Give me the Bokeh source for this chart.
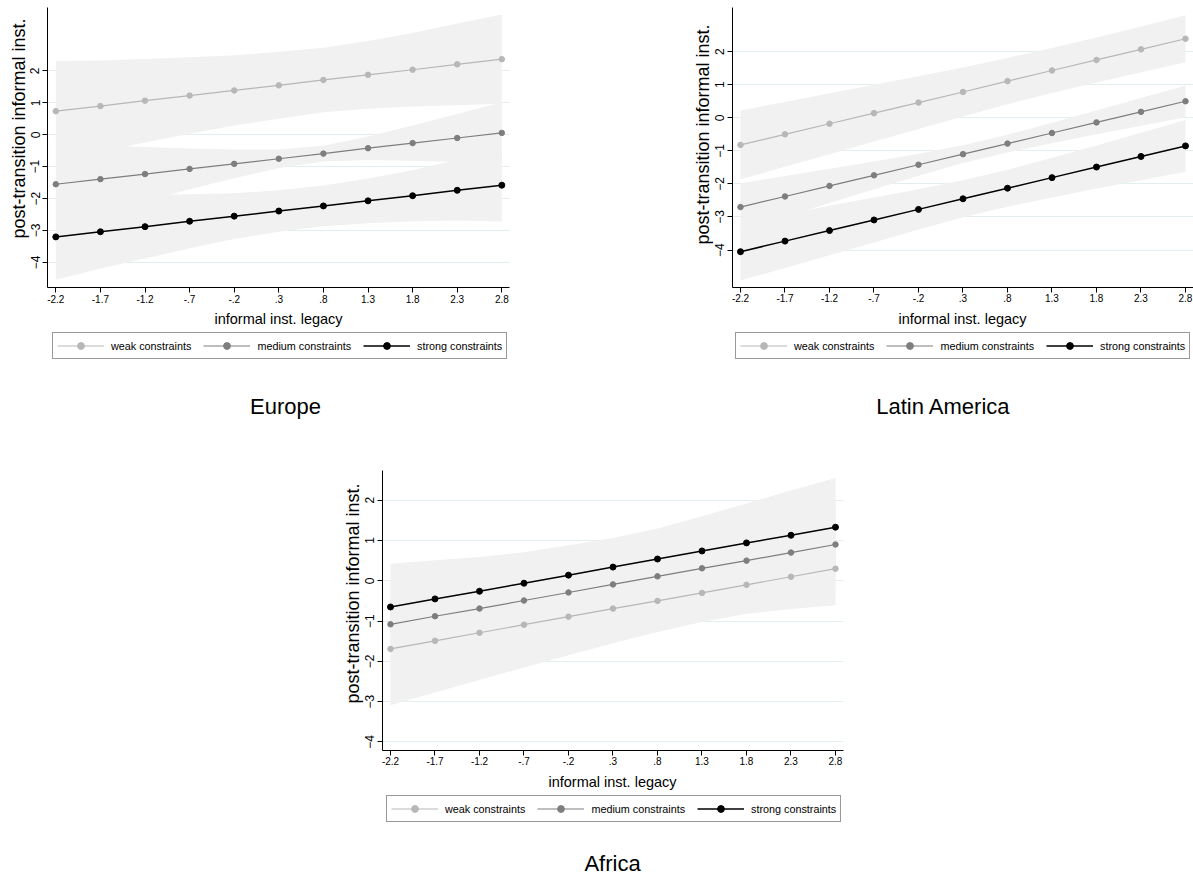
import math
from bokeh.plotting import figure
from bokeh.models import FixedTicker, Legend, LegendItem, Label, Range1d, Grid
from bokeh.layouts import row, column
from bokeh.embed import file_html
from bokeh.resources import INLINE

# ---------------- data ----------------
x_vals = [-2.2, -1.7, -1.2, -0.7, -0.2, 0.3, 0.8, 1.3, 1.8, 2.3, 2.8]
x_tick_labels = ["-2.2", "-1.7", "-1.2", "-.7", "-.2", ".3", ".8", "1.3", "1.8", "2.3", "2.8"]
y_ticks = [-4, -3, -2, -1, 0, 1, 2]
series_labels = ["weak constraints", "medium constraints", "strong constraints"]
panel_titles = ["Europe", "Latin America", "Africa"]
x_title = "informal inst. legacy"
y_title = "post-transition informal inst."

# Europe
eu_weak = [0.74, 0.90, 1.07, 1.23, 1.39, 1.55, 1.72, 1.88, 2.04, 2.21, 2.37]
eu_weak_lo = [-0.83, -0.53, -0.24, 0.03, 0.29, 0.50, 0.71, 0.82, 0.89, 0.93, 0.97]
eu_weak_hi = [2.31, 2.33, 2.38, 2.43, 2.49, 2.60, 2.73, 2.94, 3.19, 3.49, 3.77]
eu_med = [-1.55, -1.39, -1.23, -1.07, -0.91, -0.75, -0.59, -0.42, -0.26, -0.10, 0.06]
eu_med_lo = [-2.82, -2.45, -2.08, -1.71, -1.36, -1.04, -0.84, -0.79, -0.81, -0.85, -0.90]
eu_med_hi = [-0.28, -0.33, -0.38, -0.43, -0.46, -0.46, -0.34, -0.05, 0.29, 0.65, 1.02]
eu_str = [-3.20, -3.04, -2.88, -2.71, -2.55, -2.39, -2.23, -2.07, -1.91, -1.74, -1.58]
eu_str_lo = [-4.54, -4.19, -3.88, -3.56, -3.27, -3.04, -2.87, -2.77, -2.71, -2.69, -2.72]
eu_str_hi = [-1.86, -1.89, -1.88, -1.86, -1.83, -1.74, -1.59, -1.37, -1.11, -0.79, -0.44]

# Latin America
la_weak = [-0.82, -0.50, -0.18, 0.14, 0.46, 0.78, 1.11, 1.43, 1.75, 2.07, 2.39]
la_weak_lo = [-1.86, -1.48, -1.10, -0.72, -0.34, 0.04, 0.41, 0.75, 1.07, 1.38, 1.68]
la_weak_hi = [0.22, 0.48, 0.74, 1.00, 1.26, 1.52, 1.81, 2.11, 2.43, 2.76, 3.10]
la_med = [-2.70, -2.38, -2.06, -1.74, -1.42, -1.10, -0.78, -0.46, -0.14, 0.18, 0.50]
la_med_lo = [-3.42, -3.00, -2.58, -2.16, -1.75, -1.37, -1.05, -0.77, -0.50, -0.24, 0.02]
la_med_hi = [-1.98, -1.76, -1.54, -1.32, -1.09, -0.83, -0.51, -0.15, 0.22, 0.60, 0.98]
la_str = [-4.05, -3.73, -3.41, -3.09, -2.77, -2.45, -2.13, -1.81, -1.49, -1.17, -0.85]
la_str_lo = [-4.92, -4.54, -4.16, -3.77, -3.38, -3.01, -2.69, -2.41, -2.14, -1.89, -1.63]
la_str_hi = [-3.18, -2.92, -2.66, -2.41, -2.16, -1.89, -1.57, -1.21, -0.84, -0.45, -0.07]

# Africa
af_weak = [-1.69, -1.49, -1.29, -1.09, -0.89, -0.69, -0.50, -0.30, -0.10, 0.10, 0.30]
af_weak_lo = [-3.09, -2.77, -2.46, -2.15, -1.85, -1.55, -1.27, -1.02, -0.82, -0.70, -0.61]
af_weak_hi = [-0.29, -0.21, -0.12, -0.03, 0.07, 0.17, 0.27, 0.42, 0.62, 0.90, 1.21]
af_med = [-1.08, -0.88, -0.69, -0.49, -0.29, -0.09, 0.11, 0.31, 0.50, 0.70, 0.90]
af_med_lo = [-2.28, -1.96, -1.66, -1.37, -1.11, -0.87, -0.67, -0.51, -0.40, -0.30, -0.20]
af_med_hi = [0.12, 0.20, 0.28, 0.39, 0.53, 0.69, 0.89, 1.13, 1.40, 1.70, 2.00]
af_str = [-0.65, -0.45, -0.26, -0.06, 0.14, 0.34, 0.54, 0.74, 0.94, 1.13, 1.33]
af_str_lo = [-1.72, -1.41, -1.11, -0.83, -0.60, -0.38, -0.22, -0.12, -0.04, 0.02, 0.11]
af_str_hi = [0.42, 0.51, 0.59, 0.71, 0.88, 1.06, 1.30, 1.60, 1.92, 2.24, 2.55]

# ---------------- style ----------------
FONT = "Liberation Sans"
BAND = "#f1f1f1"
GRID = "#e4eef1"
LINE_COLORS = ["#b7b7b7", "#7e7e7e", "#000000"]
LINE_WIDTHS = [1.2, 1.2, 1.5]
MARKER_SIZES = [5.5, 5.5, 6]
X_TICK_FONT = "10px"
Y_TICK_FONT = "12px"
X_TITLE_FONT = "14.5px"
Y_TITLE_FONT = "18px"
PANEL_TITLE_FONT = "22px"


def make_panel(name, ests, los, his, w, h, xr, yr, x_axis_span, y_axis_span,
               legend_loc, title_xy, xtitle_xy, ytitle_xy):
    p = figure(width=w, height=h,
               x_range=Range1d(*xr), y_range=Range1d(*yr),
               toolbar_location=None, output_backend="svg",
               min_border=0, min_border_left=0, min_border_right=0,
               min_border_top=0, min_border_bottom=0,
               background_fill_color="white", border_fill_color="white")
    p.outline_line_color = None

    # grid (horizontal lines at the y ticks, limited to the plot region)
    p.xgrid.grid_line_color = None
    p.ygrid.ticker = FixedTicker(ticks=y_ticks)
    p.ygrid.grid_line_color = GRID
    p.ygrid.grid_line_width = 1
    p.ygrid.bounds = y_axis_span
    if "cross_bounds" in Grid.properties():
        p.ygrid.cross_bounds = x_axis_span
    else:
        p.ygrid.grid_line_color = None
        p.segment(x0=[x_axis_span[0]] * len(y_ticks), x1=[x_axis_span[1]] * len(y_ticks),
                  y0=y_ticks, y1=y_ticks, line_color=GRID, line_width=1)

    # confidence bands
    for lo, hi in zip(los, his):
        p.varea(x=x_vals, y1=lo, y2=hi, fill_color=BAND, fill_alpha=1.0)

    items = []
    for lab, est, c, lw, ms in zip(series_labels, ests, LINE_COLORS, LINE_WIDTHS, MARKER_SIZES):
        rl = p.line(x_vals, est, line_color=c, line_width=lw)
        rs = p.scatter(x_vals, est, marker="circle", size=ms, fill_color=c, line_color=c)
        items.append(LegendItem(label=lab, renderers=[rl, rs]))

    # axes drawn at fixed data positions inside the canvas
    xa = p.xaxis[0]
    ya = p.yaxis[0]
    xa.fixed_location = y_axis_span[0]
    xa.bounds = x_axis_span
    ya.fixed_location = x_axis_span[0]
    ya.bounds = y_axis_span
    xa.ticker = FixedTicker(ticks=x_vals)
    xa.major_label_overrides = dict(zip(x_vals, x_tick_labels))
    ya.ticker = FixedTicker(ticks=y_ticks)
    ya.major_label_orientation = "vertical"
    for ax in (xa, ya):
        ax.axis_line_color = "black"
        ax.axis_line_width = 1
        ax.major_tick_line_color = "black"
        ax.minor_tick_line_color = None
        ax.major_tick_in = 0
        ax.major_tick_out = 5
        ax.major_label_text_font = FONT
        ax.major_label_text_color = "black"
    xa.major_label_text_font_size = X_TICK_FONT
    ya.major_label_text_font_size = Y_TICK_FONT
    xa.major_label_standoff = 2
    ya.major_label_standoff = 3

    # axis titles
    p.add_layout(Label(x=xtitle_xy[0], y=xtitle_xy[1], x_units="screen", y_units="screen",
                       text=x_title, text_align="center", text_baseline="middle",
                       text_font=FONT, text_font_size=X_TITLE_FONT, text_color="black"))
    p.add_layout(Label(x=ytitle_xy[0], y=ytitle_xy[1], x_units="screen", y_units="screen",
                       text=y_title, text_align="center", text_baseline="middle",
                       angle=math.pi / 2,
                       text_font=FONT, text_font_size=Y_TITLE_FONT, text_color="black"))

    legend = Legend(items=items, orientation="horizontal", location=legend_loc,
                    border_line_color="#333333", border_line_width=1,
                    background_fill_color="white", background_fill_alpha=1.0,
                    padding=4, spacing=12, margin=0,
                    glyph_width=47, glyph_height=17, label_height=17,
                    label_standoff=7, label_text_font=FONT,
                    label_text_font_size="10.8px", label_text_color="black")
    p.add_layout(legend, "center")

    p.add_layout(Label(x=title_xy[0], y=title_xy[1], x_units="screen", y_units="screen",
                       text=name, text_align="center", text_baseline="middle",
                       text_font=FONT, text_font_size=PANEL_TITLE_FONT, text_color="black"))
    return p


p1 = make_panel(panel_titles[0],
                [eu_weak, eu_med, eu_str],
                [eu_weak_lo, eu_med_lo, eu_str_lo],
                [eu_weak_hi, eu_med_hi, eu_str_hi],
                528, 440, (-2.82, 3.099), (-9.583, 4.21),
                (-2.293, 2.89), (-4.787, 3.99),
                (52, 81), (285, 34.5), (278, 122), (18, 312))

p2 = make_panel(panel_titles[1],
                [la_weak, la_med, la_str],
                [la_weak_lo, la_med_lo, la_str_lo],
                [la_weak_hi, la_med_hi, la_str_hi],
                665, 440, (-4.582, 2.890), (-9.761, 3.548),
                (-2.29, 2.89), (-5.133, 3.336),
                (207, 81), (415, 34.5), (434, 122), (174, 306))

p3 = make_panel(panel_titles[2],
                [af_weak, af_med, af_str],
                [af_weak_lo, af_med_lo, af_str_lo],
                [af_weak_hi, af_med_hi, af_str_hi],
                860, 440, (-6.582, 3.081), (-7.437, 3.481),
                (-2.29, 2.89), (-4.211, 2.737),
                (386, 58), (612, 17), (612, 99), (352, 287))

layout = column(row(p1, p2), p3)

open("out.html", "w").write(file_html(layout, INLINE))
